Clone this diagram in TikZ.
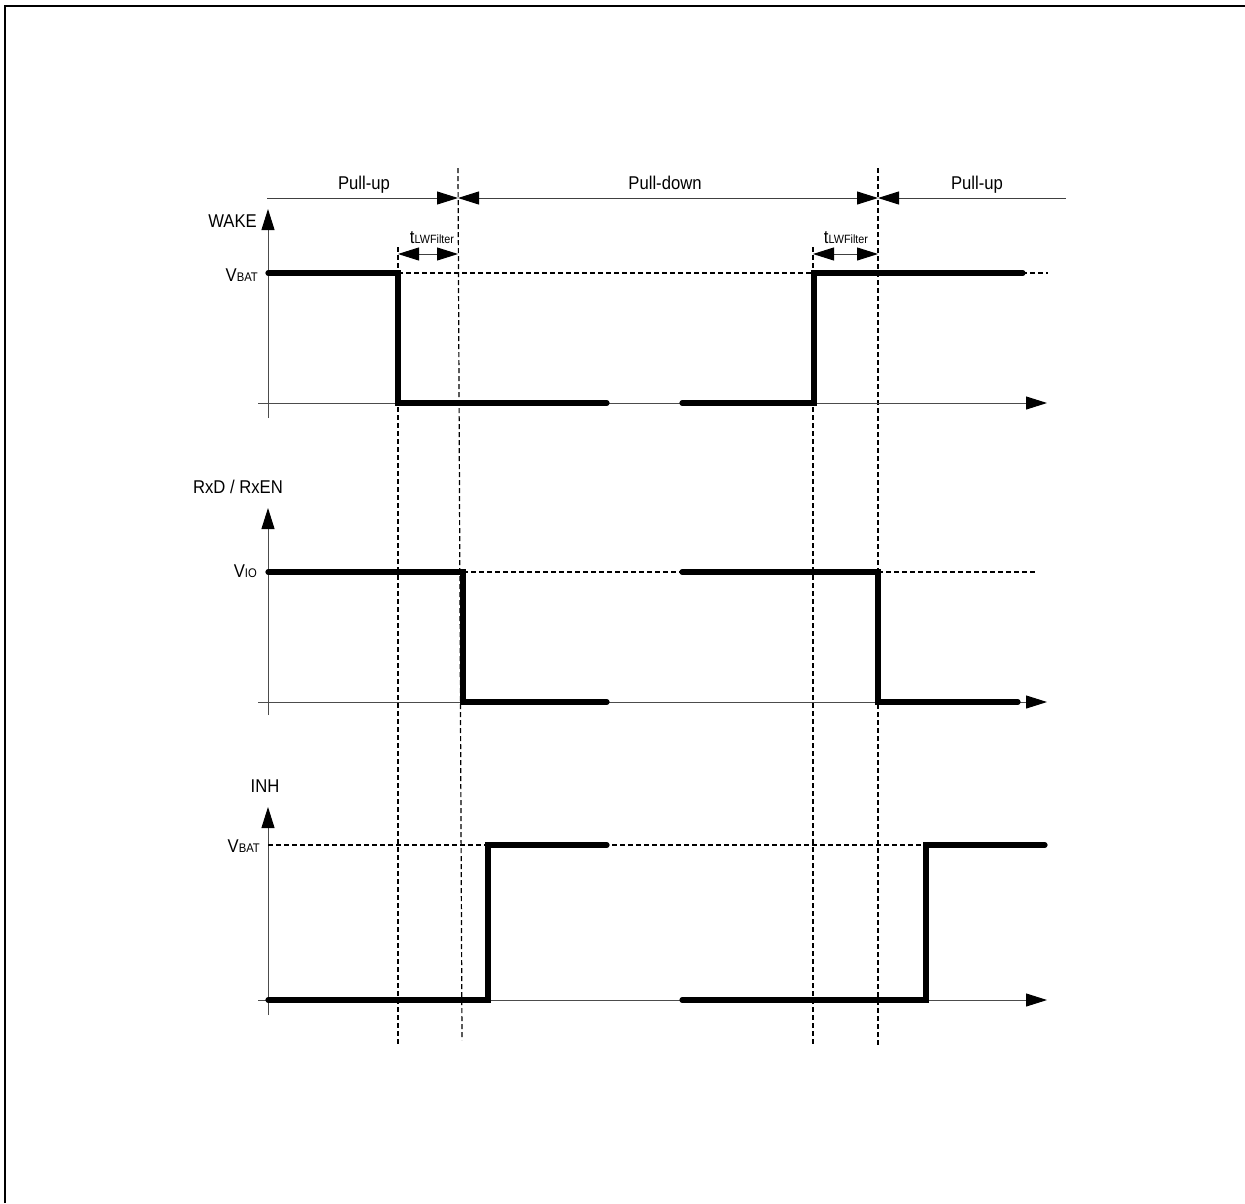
\documentclass[tikz,border=0pt]{standalone}
\usepackage{fontspec}
\setmainfont{Liberation Sans}[FakeStretch=0.9]
\usetikzlibrary{arrows.meta}
\newcommand\smallsub[1]{{\fontsize{12.5}{13}\selectfont #1}}
\newcommand\lowsub[1]{\raisebox{-0.1ex}{\fontsize{12}{13}\selectfont #1}}
\begin{document}
\begin{tikzpicture}[x=1pt,y=-1pt,
  sig/.style={line width=5.2pt,line cap=round,line join=miter},
  axis/.style={line width=1pt,black!70},
  dsh/.style={line width=1.2pt,dash pattern=on 5pt off 3pt},
  tri/.style={line width=1pt,black!75},
  lbl/.style={inner sep=0pt,anchor=base,font=\fontsize{18.5}{22}\selectfont},
  tip/.tip={Triangle[length=21pt,width=13pt,color=black]}]
\useasboundingbox (0,0) rectangle (1245,1203);
\draw[line width=2pt] (5,1203) -- (5,6) -- (1245,6);
% phase labels
\node[lbl] (pu1) at (364,189) {Pull-up};
\node[lbl] (pd) at (665,189) {Pull-down};
\node[lbl] (pu2) at (977,189) {Pull-up};
\coordinate (a0) at (267,198);
\coordinate (a1) at (458,198);
\coordinate (a2) at (878,198);
\coordinate (a3) at (1066,198);
\draw[tri,-{tip}] (a0) -- (a1);
\draw[tri,{tip}-{tip}] (a1) -- (a2);
\draw[tri,{tip}-] (a2) -- (a3);
% vertical dashed markers
\draw[dsh] (398,247) -- (398,1045);
\draw[dsh] (458,168) -- (462,1040);
\draw[dsh] (813,247) -- (813,1045);
\draw[dsh] (878,168) -- (878,1045);
% filter times
\node[lbl] (tf1) at (432,243) {t\lowsub{LWFilter}};
\node[lbl] (tf2) at (846,243) {t\lowsub{LWFilter}};
\draw[tri,{tip}-{tip}] (398,254) -- (458,254);
\draw[tri,{tip}-{tip}] (813,254) -- (878,254);
% ===== WAKE =====
\node[lbl,anchor=base east] (wake) at (257,227) {WAKE};
\draw[axis,-{tip}] (268,418) -- (268,209);
\draw[axis,-{tip}] (258,403) -- (1047,403);
\node[lbl,anchor=base east] (vbat1) at (258,281) {V\smallsub{BAT}};
\draw[dsh] (398,273) -- (1048,273);
\draw[sig] (268,273) -- (398,273) -- (398,403) -- (607,403);
\draw[sig] (682,403) -- (814,403) -- (814,273) -- (1023,273);
% ===== RxD / RxEN =====
\node[lbl] (rxd) at (238,493) {RxD / RxEN};
\draw[axis,-{tip}] (268,715) -- (268,508);
\draw[axis,-{tip}] (258,702) -- (1047,702);
\node[lbl,anchor=base east] (vio) at (257,577) {V\smallsub{IO}};
\draw[dsh] (463,572) -- (682,572);
\draw[dsh] (878,572) -- (1035,572);
\draw[sig] (268,572) -- (463,572) -- (463,702) -- (607,702);
\draw[sig] (682,572) -- (878,572) -- (878,702) -- (1018,702);
% ===== INH =====
\node[lbl] (inh) at (265,792) {INH};
\draw[axis,-{tip}] (268,1015) -- (268,807);
\draw[axis,-{tip}] (258,1000) -- (1047,1000);
\node[lbl,anchor=base east] (vbat2) at (260,852) {V\smallsub{BAT}};
\draw[dsh] (268,845) -- (926,845);
\draw[sig] (268,1000) -- (488,1000) -- (488,845) -- (607,845);
\draw[sig] (682,1000) -- (926,1000) -- (926,845) -- (1045,845);
\end{tikzpicture}
\end{document}
